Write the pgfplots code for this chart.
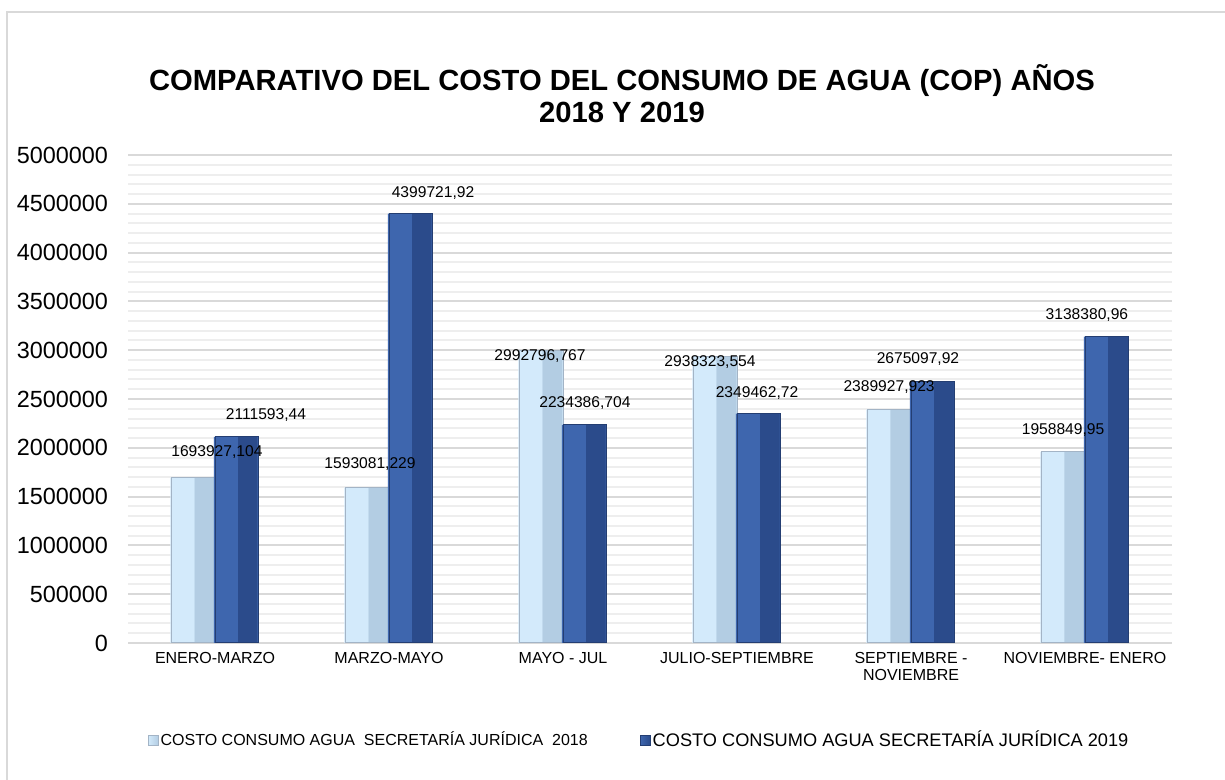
\documentclass[border=0pt]{standalone}
\usepackage{pgfplots}
\pgfplotsset{compat=1.18}
\usepackage{fontspec}
\setmainfont{Liberation Sans}
\definecolor{lbL}{HTML}{D3EAFB}
\definecolor{lbR}{HTML}{B3CDE3}
\definecolor{lbO}{HTML}{A3B4C6}
\definecolor{dbL}{HTML}{3E66AE}
\definecolor{dbR}{HTML}{2B4B8B}
\definecolor{dbO}{HTML}{243E72}
\definecolor{gridmaj}{HTML}{D9D9D9}
\definecolor{gridmin}{HTML}{EEEEEE}
\begin{document}
\begin{tikzpicture}
\useasboundingbox (0,0) rectangle (612.5pt,390pt);
\fill[white] (0,0) rectangle (612.5pt,390pt);
\draw[gridmaj, line width=1pt] (3.5pt,0) -- (3.5pt,384pt) -- (612.5pt,384pt);
\node[align=center, font=\fontsize{14.6}{16}\selectfont\bfseries] at (311pt,343pt)
  {COMPARATIVO DEL COSTO DEL CONSUMO DE AGUA (COP) AÑOS\\2018 Y 2019};
\begin{axis}[
  at={(64pt,68.5pt)}, anchor=south west,
  scale only axis, width=522pt, height=244pt,
  xmin=-0.5, xmax=5.5, ymin=0, ymax=5000000,
  axis line style={draw=none},
  xtick={0,1,2,3,4,5},
  xticklabels={ENERO-MARZO, MARZO-MAYO, MAYO - JUL, JULIO-SEPTIEMBRE, {SEPTIEMBRE -\\NOVIEMBRE}, NOVIEMBRE- ENERO},
  xticklabel style={align=center, font=\fontsize{8}{8.7}\selectfont, yshift=-1pt},
  ytick={0,500000,...,5000000},
  scaled y ticks=false,
  yticklabel style={/pgf/number format/fixed, /pgf/number format/1000 sep={}, font=\fontsize{11.7}{12}\selectfont, xshift=-6.5pt},
  /pgf/number format/assume math mode=true,
  major tick length=0pt, minor tick length=0pt,
  minor y tick num=4,
  ymajorgrids, yminorgrids,
  major grid style={gridmaj, line width=1pt},
  minor grid style={gridmin, line width=1pt},
  legend columns=2,
  legend style={at={(0.4895,-0.199)}, anchor=center, draw=none, fill=none,
    font=\fontsize{8}{9}\selectfont,
    nodes={inner sep=1pt},
    /tikz/every even column/.append style={column sep=25pt}},
  legend image code/.code={\draw[#1] (0pt,-2.5pt) rectangle (5pt,2.5pt);},
]
% 2018 series
\addplot[ybar, bar width=0.25, bar shift=-0.125, draw=lbO, left color=lbL, right color=lbR, line width=0.5pt]
 coordinates {(0,1693927.104) (1,1593081.229) (2,2992796.767) (3,2938323.554) (4,2389927.923) (5,1958849.95)};
\addlegendentry{COSTO CONSUMO AGUA \ SECRETARÍA JURÍDICA \ 2018}
\addplot[ybar, forget plot, bar width=0.1125, bar shift=-0.0625, draw=none, fill=lbR]
 coordinates {(0,1693927.104) (1,1593081.229) (2,2992796.767) (3,2938323.554) (4,2389927.923) (5,1958849.95)};
\addplot[ybar, forget plot, bar width=0.1375, bar shift=-0.1875, draw=none, fill=lbL]
 coordinates {(0,1693927.104) (1,1593081.229) (2,2992796.767) (3,2938323.554) (4,2389927.923) (5,1958849.95)};
\addplot[ybar, forget plot, bar width=0.25, bar shift=-0.125, draw=lbO, fill=none, line width=0.5pt]
 coordinates {(0,1693927.104) (1,1593081.229) (2,2992796.767) (3,2938323.554) (4,2389927.923) (5,1958849.95)};
% 2019 series
\addplot[ybar, bar width=0.25, bar shift=0.125, draw=dbO, left color=dbL, right color=dbR, line width=0.5pt]
 coordinates {(0,2111593.44) (1,4399721.92) (2,2234386.704) (3,2349462.72) (4,2675097.92) (5,3138380.96)};
\addlegendentry{\fontsize{9.1}{10}\selectfont COSTO CONSUMO AGUA SECRETARÍA JURÍDICA 2019}
\addplot[ybar, forget plot, bar width=0.1125, bar shift=0.1875, draw=none, fill=dbR]
 coordinates {(0,2111593.44) (1,4399721.92) (2,2234386.704) (3,2349462.72) (4,2675097.92) (5,3138380.96)};
\addplot[ybar, forget plot, bar width=0.1375, bar shift=0.0625, draw=none, fill=dbL]
 coordinates {(0,2111593.44) (1,4399721.92) (2,2234386.704) (3,2349462.72) (4,2675097.92) (5,3138380.96)};
\addplot[ybar, forget plot, bar width=0.25, bar shift=0.125, draw=dbO, fill=none, line width=0.5pt]
 coordinates {(0,2111593.44) (1,4399721.92) (2,2234386.704) (3,2349462.72) (4,2675097.92) (5,3138380.96)};
% data labels
\begin{scope}[every node/.style={font=\fontsize{7.8}{8}\selectfont, inner sep=0pt}]
\node at (axis cs:0.011,1957000) {1693927,104};
\node at (axis cs:0.293,2336000) {2111593,44};
\node at (axis cs:0.891,1834000) {1593081,229};
\node at (axis cs:1.253,4611000) {4399721,92};
\node at (axis cs:1.868,2941000) {2992796,767};
\node at (axis cs:2.126,2459000) {2234386,704};
\node at (axis cs:2.845,2879000) {2938323,554};
\node at (axis cs:3.115,2561000) {2349462,72};
\node at (axis cs:3.874,2623000) {2389927,923};
\node at (axis cs:4.040,2910000) {2675097,92};
\node at (axis cs:4.874,2182000) {1958849,95};
\node at (axis cs:5.011,3361000) {3138380,96};
\end{scope}
\end{axis}
\end{tikzpicture}
\end{document}
